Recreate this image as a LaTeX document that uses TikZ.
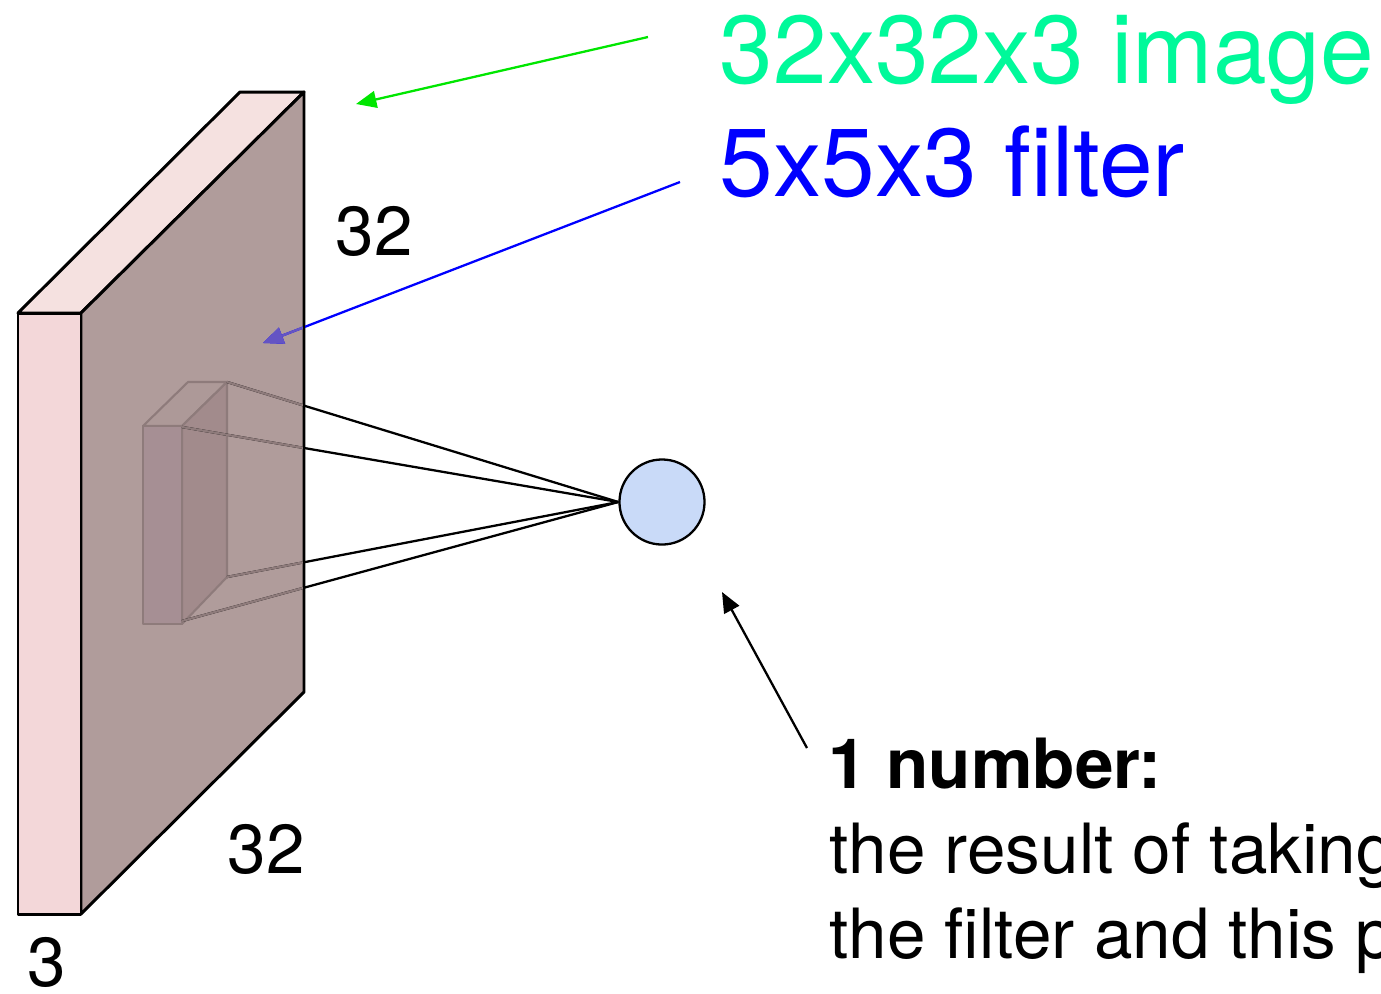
\documentclass[tikz,border=0pt]{standalone}
\usepackage{fontspec}
\setmainfont{TeX Gyre Heros}
\usetikzlibrary{arrows.meta}
\definecolor{slabFront}{HTML}{F3D7D9}
\definecolor{slabTop}{HTML}{F5E1E0}
\definecolor{slabFace}{HTML}{B09C9B}
\definecolor{filterFront}{HTML}{A68F94}
\definecolor{filterSide}{HTML}{A28B8C}
\definecolor{filterTop}{HTML}{AD9998}
\definecolor{filterEdge}{HTML}{8E7B7B}
\definecolor{imageGreen}{HTML}{00F99A}
\definecolor{arrowGreen}{HTML}{00E600}
\definecolor{filterBlue}{HTML}{0000FF}
\definecolor{hiddenBlue}{HTML}{6454C4}
\definecolor{neuronFill}{HTML}{C9DAF8}

\begin{document}
\begin{tikzpicture}[x=0.01cm,y=-0.01cm,>={Triangle[length=5.8pt,width=4.8pt]},
  slab/.style={draw=black,line width=0.85pt,line join=round},
  box/.style={draw=filterEdge,line width=0.6pt,line join=round},
  wire/.style={line width=0.65pt},
  big/.style={font=\fontsize{27.45}{32}\selectfont,inner sep=0pt,anchor=base west},
  small/.style={font=\fontsize{19.7}{24}\selectfont,inner sep=0pt,anchor=base west}]
  \clip (0,0) rectangle (1381,993);
  % input volume
  \draw[slab,fill=slabTop] (18,313) -- (240,92) -- (304,92) -- (81,313) -- cycle;
  \draw[slab,fill=slabFace] (81,313) -- (304,92) -- (304,692) -- (81,914) -- cycle;
  \draw[slab,fill=slabFront] (18,313) rectangle (81,914);
  % filter
  \coordinate (f1) at (227,382);
  \coordinate (f2) at (182,427);
  \coordinate (f3) at (227,577);
  \coordinate (f4) at (182,621);
  \draw[box,fill=filterTop] (143,426) -- (188,382) -- (f1) -- (182,426) -- cycle;
  \draw[box,fill=filterSide] (182,426) -- (f1) -- (f3) -- (182,624) -- cycle;
  \draw[box,fill=filterFront] (143,426) rectangle (182,624);
  % output neuron
  \node[circle,draw,line width=0.65pt,fill=neuronFill,minimum size=0.85cm,inner sep=0pt] (neuron) at (662,502) {};
  \foreach \c in {f1,f2,f3,f4}
    \draw[wire] (\c) -- (neuron.west);
  % arrows
  \coordinate (greenTail) at (648,37);
  \coordinate (greenTip) at (356,104);
  \coordinate (blueTail) at (680,182);
  \coordinate (blueTip) at (263,343);
  \coordinate (numTail) at (807,748);
  \coordinate (numTip) at (722,592);
  \draw[->,wire,arrowGreen] (greenTail) -- (greenTip);
  \draw[->,wire,filterBlue] (blueTail) -- (blueTip);
  \draw[->,wire] (numTail) -- (numTip);
  % parts seen through the face
  \begin{scope}
    \clip (81,313) -- (304,92) -- (304,692) -- (81,914) -- cycle;
    \foreach \c in {f1,f2,f3,f4}
      \draw[wire,filterEdge] (\c) -- (neuron.west);
    \draw[->,wire,hiddenBlue] (blueTail) -- (blueTip);
  \end{scope}
  \draw[slab] (304,92) -- (304,692);
  % labels
  \node[big,text=imageGreen] (imageText) at (719,83) {32x32x3 image};
  \node[big,text=filterBlue] (filterText) at (719,196) {5x5x3 filter};
  \node[small] (heightLbl) at (335,255) {32};
  \node[small] (widthLbl) at (227,873) {32};
  \node[small] (depthLbl) at (27,986) {3};
  \node[small] (numTitle) at (828,788) {\bfseries 1 number:};
  \node[small] (numLine1) at (829,873) {the result of taking};
  \node[small] (numLine2) at (829,958) {the filter and this p};
\end{tikzpicture}
\end{document}
